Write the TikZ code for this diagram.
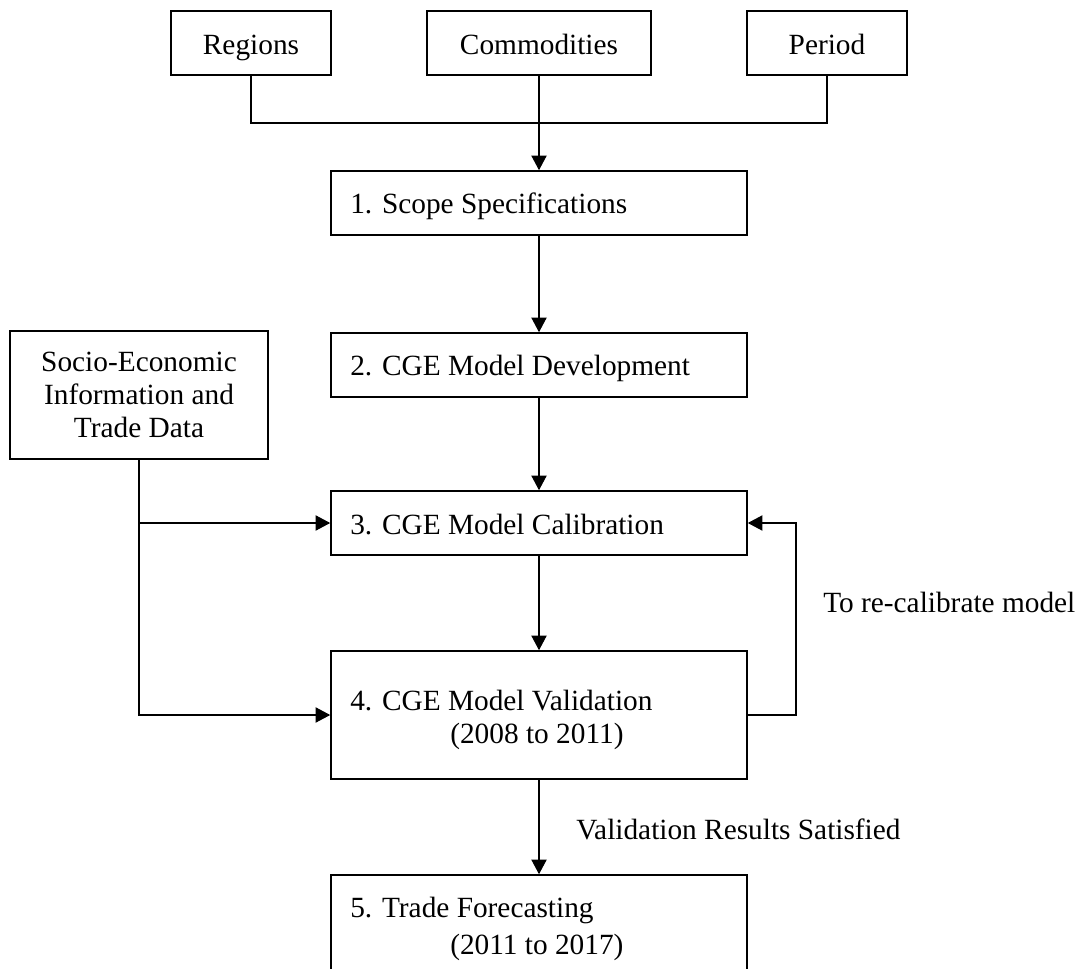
\documentclass[tikz,border=0pt]{standalone}
\usepackage{fontspec}
\setmainfont{Liberation Serif}
\usetikzlibrary{arrows.meta}
\begin{document}
\begin{tikzpicture}[x=0.75pt,y=-0.75pt,
  box/.style={draw, line width=1.2pt, rectangle, inner sep=0pt,
    font=\fontsize{22}{25}\selectfont},
  onebox/.style={box, minimum height=48pt},
  twobox/.style={box, minimum height=96pt},
  stepbox/.style={box, minimum width=312pt},
  lbl/.style={inner sep=0pt, anchor=base west, font=\fontsize{22}{25}\selectfont},
  link/.style={line width=0.8pt},
  flow/.style={link, -{Triangle[length=11pt,width=11.5pt]}}]
\clip (0,0) rectangle (1084,969);

% inputs that define the scope
\node[onebox, minimum width=120pt, text height=19.8pt, text depth=2.6pt] (regions) at (251,43) {Regions};
\node[onebox, minimum width=168pt, text height=19.8pt, text depth=2.6pt] (commod) at (539,43) {Commodities};
\node[onebox, minimum width=120pt, text height=19.8pt, text depth=2.6pt] (period) at (827,43) {Period};

% main sequence of steps
\node[stepbox, onebox] (scope) at (539,203) {};
\node[stepbox, onebox] (dev) at (539,365) {};
\node[stepbox, onebox] (calib) at (539,523) {};
\node[stepbox, twobox] (valid) at (539,715) {};
\node[stepbox, twobox] (trade) at (539,939) {};

% external data source
\node[twobox, minimum width=193.5pt, align=center] (socio) at (139,395)
  {Socio-Economic\\Information and\\Trade Data};

% step texts
\node[lbl] (tscope) at (350,214) {1. Scope Specifications};
\node[lbl] (tdev) at (350,376) {2. CGE Model Development};
\node[lbl] (tcalib) at (350,534) {3. CGE Model Calibration};
\node[lbl] (tvalid) at (350,710) {4. CGE Model Validation};
\node[lbl] (tvalidyr) at (450,743) {(2008 to 2011)};
\node[lbl] (ttrade) at (350,917) {5. Trade Forecasting};
\node[lbl] (ttradeyr) at (450,954) {(2011 to 2017)};

% connector labels
\node[lbl] (lrecal) at (823,612) {To re-calibrate model};
\node[lbl] (lsat) at (576,839) {Validation Results Satisfied};

% joining the three inputs
\coordinate (join) at (539,123);
\draw[link] (regions.south) |- (join) -| (period.south);
\draw[flow] (commod.south) -- (scope.north);

% step sequence
\draw[flow] (scope.south) -- (dev.north);
\draw[flow] (dev.south) -- (calib.north);
\draw[flow] (calib.south) -- (valid.north);
\draw[flow] (valid.south) -- (trade.north);

% data feeding calibration and validation
\coordinate (branch) at (socio.south |- calib.west);
\draw[flow] (socio.south) |- (valid.west);
\draw[flow] (branch) -- (calib.west);

% feedback loop
\coordinate (loop) at (796,715);
\draw[flow] (valid.east) -- (loop) |- (calib.east);
\end{tikzpicture}
\end{document}
